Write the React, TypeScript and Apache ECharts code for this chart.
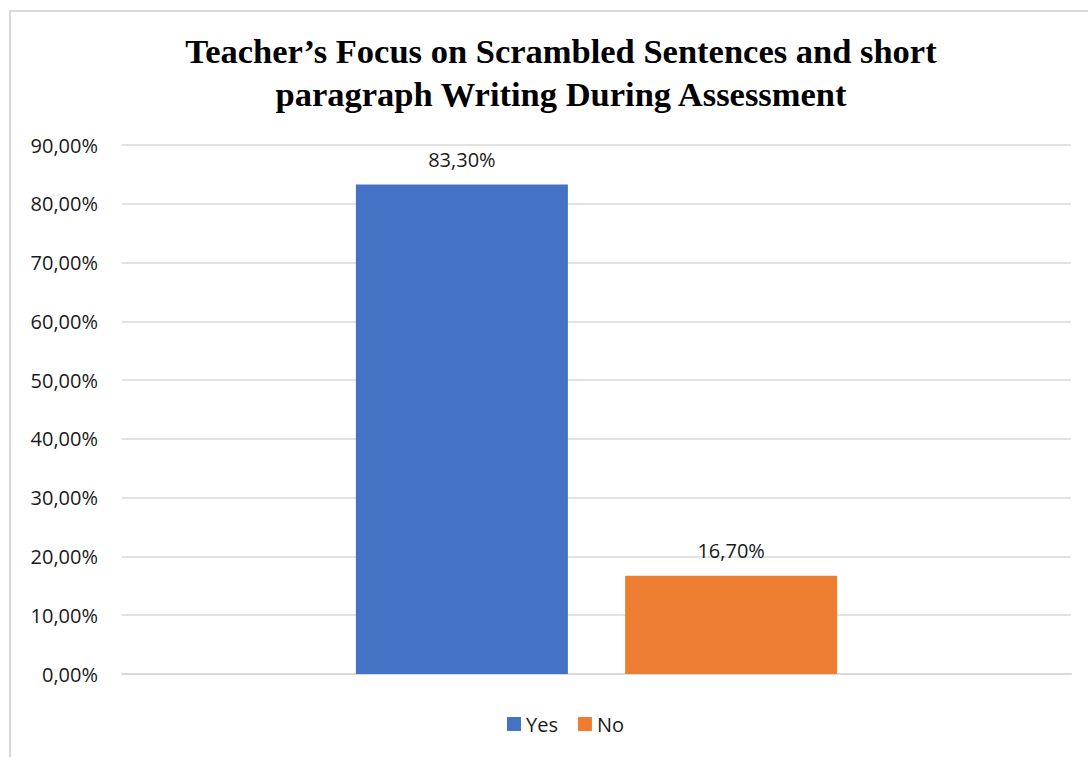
import React, { useEffect, useRef } from "react";
import * as echarts from "echarts";

const categories = [""];
const seriesNames = ["Yes", "No"];
const yesValues = [83.3];
const noValues = [16.7];
const colors = ["#4472C4", "#ED7D31"];

const fmt = (v: number) => v.toFixed(2).replace(".", ",") + "%";

export default function App() {
  const ref = useRef<HTMLDivElement>(null);
  useEffect(() => {
    const chart = echarts.init(ref.current!, undefined, { renderer: "svg" });
    const labelStyle = {
      show: true,
      position: "top",
      distance: 15,
      formatter: (p: any) => fmt(p.value),
      fontFamily: "Open Sans",
      fontSize: 20,
      color: "#1a1a1a",
    };
    chart.setOption({
      animation: false,
      backgroundColor: "#ffffff",
      title: {
        text: "Teacher\u2019s Focus on Scrambled Sentences and short\nparagraph Writing During Assessment",
        left: 556,
        textAlign: "center",
        top: 24,
        textStyle: {
          fontFamily: "Liberation Serif",
          fontWeight: "bold",
          fontSize: 34.5,
          lineHeight: 43,
          color: "#000000",
        },
      },
      graphic: [
        {
          type: "rect",
          shape: { x: 10, y: 11, width: 1100, height: 800 },
          style: { fill: "none", stroke: "#d9d9d9", lineWidth: 2 },
          silent: true,
        },
      ],
      legend: {
        bottom: 18,
        left: 502,
        itemWidth: 14,
        itemHeight: 14,
        itemGap: 20,
        icon: "rect",
        textStyle: { fontFamily: "Open Sans", fontSize: 20, color: "#1a1a1a" },
        data: seriesNames,
      },
      grid: { left: 122, right: 17, top: 145, bottom: 83 },
      xAxis: {
        type: "category",
        data: categories,
        axisLine: { lineStyle: { color: "#d9d9d9", width: 2 } },
        axisTick: { show: false },
        axisLabel: { show: false },
      },
      yAxis: {
        type: "value",
        min: 0,
        max: 90,
        interval: 10,
        axisLine: { show: false },
        axisTick: { show: false },
        splitLine: { lineStyle: { color: "#d9d9d9", width: 1.5 } },
        axisLabel: {
          formatter: (v: number) => fmt(v),
          fontFamily: "Open Sans",
          fontSize: 20,
          color: "#1a1a1a",
          margin: 24,
        },
      },
      series: [
        {
          name: seriesNames[0],
          type: "bar",
          data: yesValues,
          barWidth: 212,
          barGap: "27%",
          itemStyle: { color: colors[0] },
          label: labelStyle,
        },
        {
          name: seriesNames[1],
          type: "bar",
          data: noValues,
          barWidth: 212,
          barGap: "27%",
          itemStyle: { color: colors[1] },
          label: labelStyle,
        },
      ],
    });
    return () => chart.dispose();
  }, []);
  return (
    <div
      ref={ref}
      style={{ position: "fixed", left: 0, top: 0, width: 1088, height: 757 }}
    />
  );
}
